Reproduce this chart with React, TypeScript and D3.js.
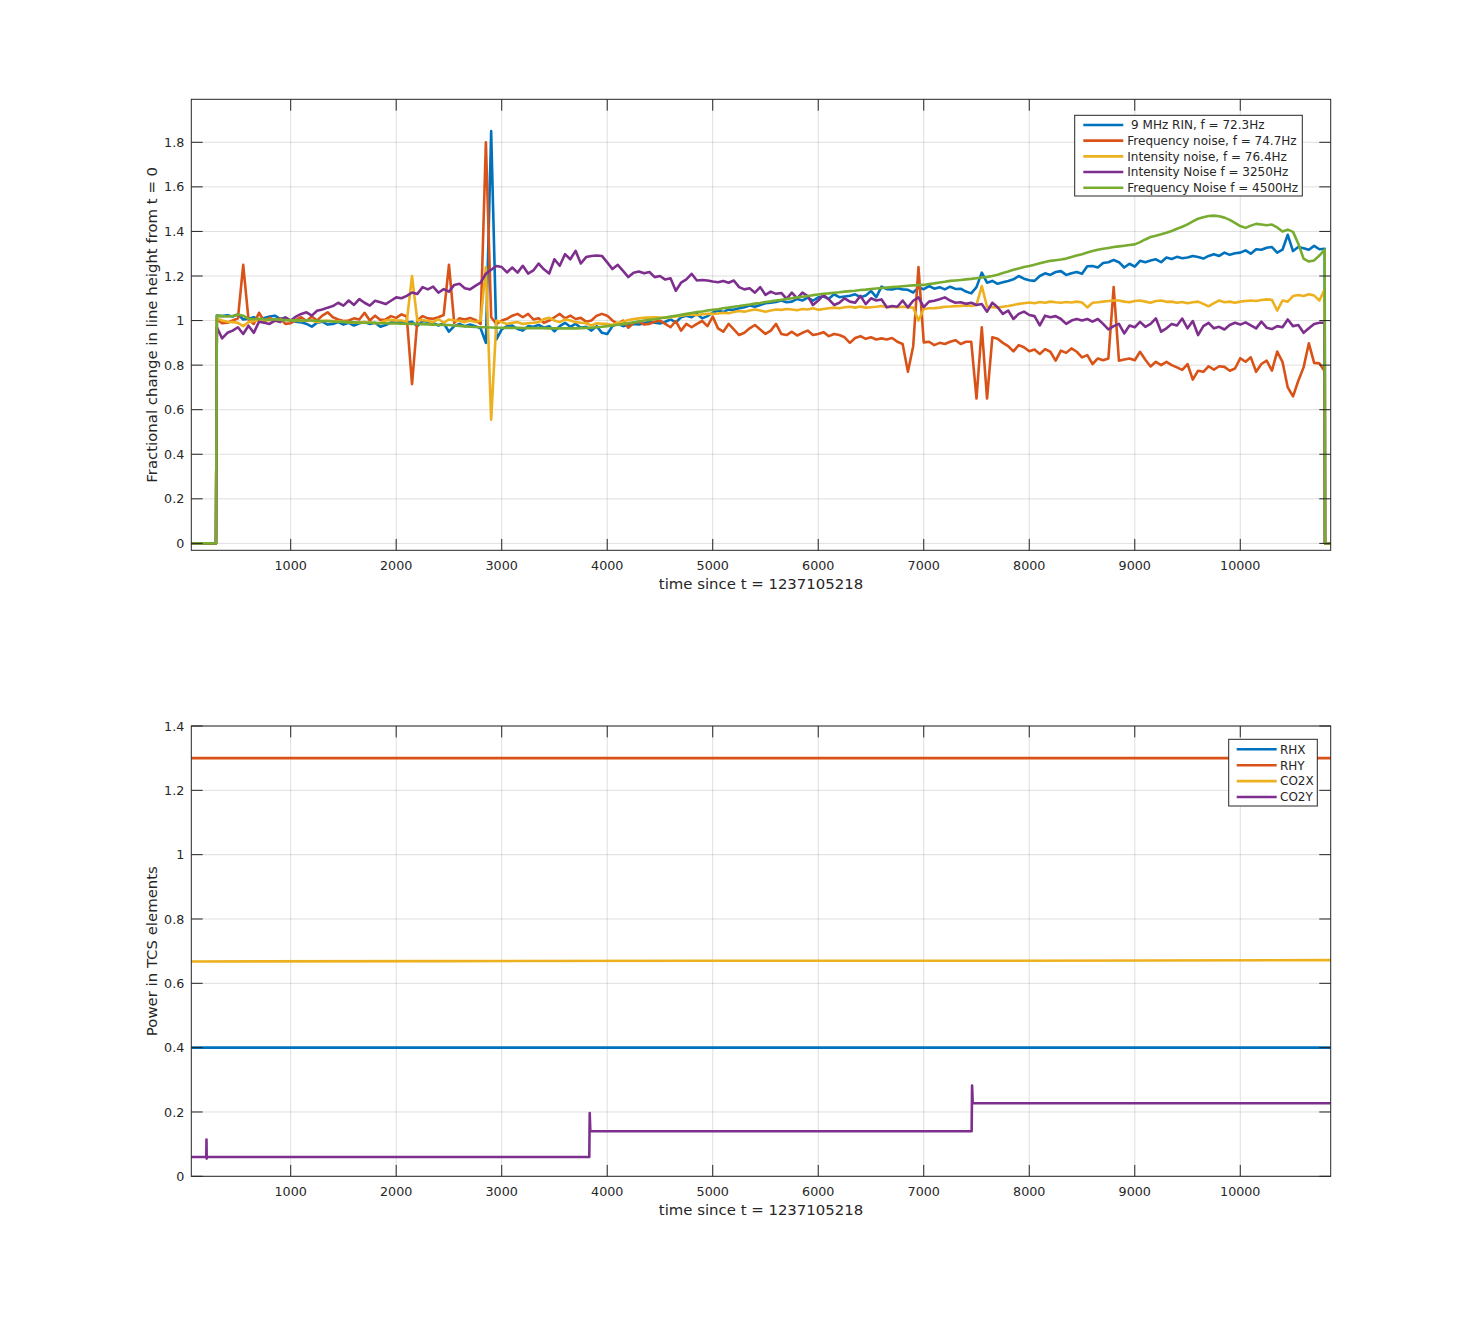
import React from 'react';
import * as d3 from 'd3';

// ---------- data ----------
const COLORS = ['#0072BD', '#D95319', '#EDB120', '#7E2F8E', '#77AC30'];

const TOP_NAMES = [
  ' 9 MHz RIN, f = 72.3Hz',
  'Frequency noise, f = 74.7Hz',
  'Intensity noise, f = 76.4Hz',
  'Intensity Noise f = 3250Hz',
  'Frequency Noise f = 4500Hz',
];

const X_DOMAIN = [58, 10857];
const X_TICKS = [1000, 2000, 3000, 4000, 5000, 6000, 7000, 8000, 9000, 10000];
const TOP_Y_DOMAIN = [-0.031, 1.993];
const TOP_Y_TICKS = [0, 0.2, 0.4, 0.6, 0.8, 1, 1.2, 1.4, 1.6, 1.8];
const BOT_Y_DOMAIN = [0, 1.4];
const BOT_Y_TICKS = [0, 0.2, 0.4, 0.6, 0.8, 1, 1.2, 1.4];

// sampling of the top-panel traces: first sample time and spacing (s)
const SAMPLE_START = 300;
const SAMPLE_STEP = 50;
// before the first sample and after the last one the traces are zero
const LEAD_T = [58, 292];
const TAIL_T = [10803, 10857];

const RIN_72 = [
  1.022,1.020,1.024,1.018,1.028,1.005,1.008,1.015,1.004,1.012,1.018,1.022,1.008,1.012,1.000,0.995,0.992,0.985,0.973,0.990,
  0.995,0.982,0.985,0.993,0.982,0.990,0.978,0.988,0.993,0.985,0.990,0.972,0.980,0.992,0.990,0.993,0.990,0.995,0.975,0.998,
  0.995,0.990,0.978,0.988,0.950,0.975,0.985,0.975,0.982,0.975,0.965,0.900,1.850,0.915,0.960,0.975,0.978,0.962,0.955,0.975,
  0.972,0.980,0.968,0.975,0.952,0.975,0.990,0.972,0.985,0.968,0.972,0.955,0.975,0.945,0.940,0.975,0.985,0.975,0.980,0.985,
  0.982,0.988,0.995,0.990,0.987,0.995,1.005,0.992,1.015,1.022,1.015,1.030,1.010,1.020,1.035,1.045,1.038,1.050,1.048,1.055,
  1.060,1.068,1.062,1.070,1.078,1.080,1.083,1.090,1.082,1.085,1.097,1.090,1.103,1.089,1.104,1.108,1.098,1.118,1.105,1.108,
  1.111,1.118,1.105,1.112,1.133,1.105,1.152,1.141,1.140,1.145,1.140,1.138,1.126,1.148,1.141,1.155,1.143,1.150,1.140,1.152,
  1.142,1.143,1.130,1.122,1.150,1.215,1.170,1.178,1.165,1.172,1.178,1.185,1.200,1.188,1.181,1.178,1.200,1.212,1.205,1.218,
  1.222,1.205,1.212,1.218,1.210,1.244,1.245,1.238,1.258,1.262,1.272,1.262,1.238,1.255,1.242,1.268,1.262,1.270,1.275,1.262,
  1.283,1.276,1.286,1.280,1.283,1.290,1.285,1.278,1.290,1.298,1.290,1.305,1.295,1.302,1.305,1.315,1.300,1.320,1.318,1.327,
  1.330,1.305,1.318,1.385,1.312,1.330,1.325,1.318,1.335,1.320,1.322,
];

const FREQ_75 = [
  1.005,0.988,0.990,1.000,1.010,1.250,1.005,0.985,1.035,0.995,1.012,0.998,1.010,0.985,0.988,1.003,1.015,0.998,1.018,1.000,
  1.022,1.037,1.015,1.005,0.998,1.000,1.010,1.005,1.035,1.000,1.022,1.003,1.005,1.020,1.012,1.028,1.018,0.715,1.000,1.020,
  1.010,1.008,1.015,1.025,1.250,0.990,1.010,1.005,1.012,1.003,0.985,1.800,1.015,0.985,1.000,1.008,1.022,1.030,1.015,1.030,
  1.005,1.010,0.990,1.000,1.015,1.030,1.010,1.022,1.007,1.012,0.995,1.000,1.022,1.030,1.022,1.000,0.985,1.000,0.968,0.990,
  0.995,0.982,0.985,0.995,1.000,0.985,0.970,0.998,0.955,0.985,0.970,0.985,0.998,0.975,1.018,0.965,0.950,0.985,0.960,0.935,
  0.945,0.965,0.980,0.960,0.940,0.955,0.985,0.940,0.935,0.950,0.933,0.945,0.955,0.935,0.940,0.948,0.930,0.940,0.935,0.925,
  0.900,0.922,0.930,0.918,0.925,0.915,0.920,0.915,0.922,0.905,0.895,0.770,0.885,1.240,0.902,0.905,0.890,0.900,0.895,0.905,
  0.912,0.895,0.905,0.905,0.650,0.970,0.650,0.925,0.918,0.900,0.885,0.862,0.890,0.880,0.862,0.870,0.850,0.872,0.860,0.820,
  0.865,0.855,0.875,0.860,0.835,0.845,0.805,0.830,0.822,0.830,1.150,0.820,0.825,0.830,0.822,0.860,0.824,0.794,0.815,0.800,
  0.815,0.800,0.790,0.779,0.805,0.735,0.775,0.770,0.795,0.780,0.795,0.792,0.775,0.785,0.831,0.815,0.835,0.770,0.805,0.820,
  0.775,0.861,0.815,0.700,0.660,0.730,0.790,0.898,0.810,0.808,0.772,
];

const INT_76 = [
  1.010,1.000,0.995,0.993,0.990,0.975,0.993,0.998,1.000,1.002,1.003,1.000,1.002,1.005,1.000,1.000,0.998,1.000,1.000,0.993,
  0.998,1.000,0.998,0.997,0.995,0.993,0.992,0.990,0.993,0.992,0.988,0.990,1.000,1.003,1.000,1.000,0.995,1.200,1.000,1.003,
  0.998,0.993,1.007,0.990,1.005,1.000,0.998,0.993,1.000,0.993,1.000,1.240,0.555,1.000,0.993,0.985,0.990,0.993,0.985,0.988,
  0.990,0.993,1.007,1.012,1.000,0.993,1.005,1.000,0.993,0.990,0.988,0.978,0.988,0.985,0.985,0.980,0.990,0.995,1.002,1.007,
  1.010,1.013,1.013,1.015,1.013,1.012,1.015,1.018,1.022,1.025,1.027,1.024,1.028,1.030,1.030,1.032,1.035,1.033,1.038,1.043,
  1.040,1.045,1.050,1.045,1.040,1.045,1.050,1.048,1.052,1.050,1.046,1.052,1.050,1.055,1.048,1.052,1.055,1.058,1.055,1.060,
  1.062,1.058,1.063,1.058,1.060,1.062,1.065,1.060,1.062,1.060,1.062,1.060,1.058,1.000,1.052,1.055,1.056,1.058,1.062,1.063,
  1.065,1.066,1.068,1.065,1.070,1.155,1.062,1.060,1.059,1.062,1.065,1.070,1.075,1.078,1.081,1.078,1.083,1.080,1.085,1.082,
  1.080,1.083,1.081,1.085,1.081,1.059,1.080,1.082,1.085,1.088,1.090,1.090,1.085,1.082,1.088,1.090,1.085,1.080,1.088,1.090,
  1.084,1.085,1.080,1.083,1.078,1.082,1.085,1.075,1.064,1.078,1.090,1.082,1.085,1.080,1.085,1.088,1.090,1.088,1.092,1.095,
  1.093,1.045,1.090,1.085,1.110,1.115,1.110,1.118,1.112,1.090,1.140,
];

const INT_3250 = [
  0.970,0.920,0.945,0.955,0.970,0.940,0.977,0.945,0.995,0.990,0.985,1.000,0.993,1.015,1.000,1.018,1.030,1.037,1.022,1.044,
  1.050,1.058,1.065,1.080,1.067,1.090,1.070,1.096,1.080,1.067,1.089,1.082,1.074,1.089,1.104,1.100,1.111,1.126,1.119,1.150,
  1.140,1.152,1.125,1.141,1.130,1.160,1.165,1.145,1.140,1.156,1.170,1.210,1.228,1.245,1.240,1.216,1.238,1.215,1.246,1.211,
  1.225,1.256,1.230,1.211,1.275,1.246,1.298,1.275,1.313,1.256,1.285,1.290,1.292,1.290,1.261,1.231,1.250,1.223,1.195,1.215,
  1.220,1.212,1.218,1.195,1.200,1.184,1.190,1.134,1.170,1.185,1.210,1.180,1.182,1.180,1.175,1.172,1.178,1.170,1.180,1.150,
  1.140,1.145,1.125,1.150,1.115,1.130,1.120,1.124,1.097,1.125,1.100,1.125,1.110,1.070,1.090,1.115,1.095,1.070,1.080,1.100,
  1.085,1.080,1.111,1.074,1.100,1.090,1.095,1.060,1.065,1.062,1.090,1.059,1.089,1.104,1.060,1.085,1.089,1.096,1.104,1.090,
  1.080,1.082,1.075,1.080,1.070,1.074,1.040,1.080,1.060,1.030,1.045,1.007,1.030,1.040,1.025,1.020,0.978,1.022,1.015,1.020,
  1.007,0.985,1.000,1.007,1.000,1.007,0.995,1.007,0.985,0.960,0.975,0.985,0.942,0.978,0.970,0.994,0.972,0.985,1.010,0.950,
  0.965,0.985,0.978,1.009,0.965,0.998,0.935,0.975,0.990,0.965,0.972,0.960,0.980,0.990,0.982,0.992,0.978,0.965,0.995,0.968,
  0.962,0.975,0.970,1.005,0.975,0.980,0.945,0.965,0.985,0.990,0.990,
];

const FREQ_4500 = [
  1.022,1.020,1.018,1.020,1.027,1.022,1.008,1.006,1.008,1.005,1.004,1.006,1.003,1.002,1.001,1.002,1.000,1.001,1.000,0.999,
  0.998,0.997,0.996,0.995,0.994,0.993,0.992,0.991,0.990,0.990,0.989,0.988,0.988,0.987,0.987,0.986,0.986,0.985,0.985,0.984,
  0.983,0.982,0.981,0.980,0.980,0.978,0.976,0.974,0.972,0.971,0.970,0.970,0.969,0.968,0.968,0.967,0.967,0.967,0.966,0.966,
  0.966,0.966,0.966,0.965,0.965,0.965,0.965,0.965,0.965,0.966,0.967,0.968,0.970,0.972,0.975,0.978,0.981,0.984,0.988,0.992,
  0.996,1.000,1.003,1.006,1.010,1.014,1.018,1.022,1.026,1.030,1.034,1.038,1.041,1.045,1.048,1.051,1.055,1.058,1.062,1.065,
  1.069,1.072,1.076,1.079,1.083,1.086,1.090,1.093,1.097,1.100,1.104,1.107,1.110,1.114,1.117,1.120,1.122,1.125,1.127,1.130,
  1.132,1.134,1.137,1.139,1.142,1.144,1.146,1.148,1.150,1.152,1.154,1.156,1.158,1.159,1.160,1.164,1.167,1.171,1.174,1.178,
  1.180,1.182,1.185,1.187,1.190,1.193,1.196,1.200,1.206,1.213,1.220,1.228,1.234,1.240,1.245,1.251,1.257,1.263,1.268,1.271,
  1.274,1.278,1.285,1.292,1.298,1.305,1.312,1.318,1.322,1.326,1.330,1.333,1.336,1.339,1.342,1.352,1.364,1.375,1.381,1.387,
  1.394,1.402,1.412,1.421,1.432,1.445,1.457,1.464,1.469,1.471,1.468,1.462,1.452,1.438,1.424,1.416,1.426,1.434,1.431,1.428,
  1.431,1.418,1.400,1.408,1.398,1.345,1.278,1.265,1.270,1.292,1.318,
];

const TOP_SERIES = [RIN_72, FREQ_75, INT_76, INT_3250, FREQ_4500];

// bottom panel (TCS powers), step-like traces as breakpoints
const TCS_NAMES = ['RHX', 'RHY', 'CO2X', 'CO2Y'];
const RHX_T = [58, 10857];
const RHX_V = [0.4, 0.4];
const RHY_T = [58, 10857];
const RHY_V = [1.3, 1.3];
const CO2X_T = [58, 2500, 5000, 7500, 10857];
const CO2X_V = [0.668, 0.669, 0.670, 0.670, 0.672];
const CO2Y_T = [58, 200, 202, 204, 206, 3830, 3834, 3840, 7454, 7458, 7464, 10857];
const CO2Y_V = [0.06, 0.06, 0.114, 0.055, 0.06, 0.06, 0.197, 0.14, 0.14, 0.282, 0.227, 0.227];
const BOT_SERIES = [
  [RHX_T, RHX_V],
  [RHY_T, RHY_V],
  [CO2X_T, CO2X_V],
  [CO2Y_T, CO2Y_V],
];

// ---------- layout ----------
const W = 1471;
const H = 1323;
const FONT = '"DejaVu Sans", sans-serif';
const INK = '#262626';
const TICK_LEN = 11.4;
const LINE_W = 2.6;
const TOP_BOX = { left: 191.3, right: 1330.7, top: 99.3, bottom: 550.3 };
const BOT_BOX = { left: 191.3, right: 1330.7, top: 726.0, bottom: 1176.3 };

const fmt = (v: number) => String(+v.toFixed(1));

function topPoints(vals: number[]): [number, number][] {
  const pts: [number, number][] = LEAD_T.map((t) => [t, 0] as [number, number]);
  vals.forEach((v, i) => pts.push([SAMPLE_START + i * SAMPLE_STEP, v]));
  TAIL_T.forEach((t) => pts.push([t, 0]));
  return pts;
}

type Box = { left: number; right: number; top: number; bottom: number };

function Axes(props: {
  id: string;
  box: Box;
  yDomain: number[];
  yTicks: number[];
  series: [number, number][][];
  ylabel: string;
  xlabel: string;
}) {
  const { id, box, yDomain, yTicks, series, ylabel, xlabel } = props;
  const x = d3.scaleLinear().domain(X_DOMAIN).range([box.left, box.right]);
  const y = d3.scaleLinear().domain(yDomain).range([box.bottom, box.top]);
  const line = d3
    .line<[number, number]>()
    .x((d) => x(d[0]))
    .y((d) => y(d[1]));
  const cx = (box.left + box.right) / 2;
  const cy = (box.top + box.bottom) / 2;
  return (
    <g>
      <defs>
        <clipPath id={id}>
          <rect x={box.left} y={box.top - 2} width={box.right - box.left} height={box.bottom - box.top + 4} />
        </clipPath>
      </defs>
      <rect x={box.left} y={box.top} width={box.right - box.left} height={box.bottom - box.top} fill="#fff" />
      {/* grid */}
      <g stroke={INK} strokeOpacity={0.15} strokeWidth={1}>
        {X_TICKS.map((t) => (
          <line key={'gx' + t} x1={x(t)} x2={x(t)} y1={box.top} y2={box.bottom} />
        ))}
        {yTicks.map((t) => (
          <line key={'gy' + t} x1={box.left} x2={box.right} y1={y(t)} y2={y(t)} />
        ))}
      </g>
      {/* data */}
      <g clipPath={`url(#${id})`} fill="none" strokeWidth={LINE_W} strokeLinejoin="round" strokeLinecap="round">
        {series.map((pts, i) => (
          <path key={i} d={line(pts) || ''} stroke={COLORS[i]} />
        ))}
      </g>
      {/* box + ticks */}
      <rect x={box.left} y={box.top} width={box.right - box.left} height={box.bottom - box.top} fill="none" stroke={INK} strokeWidth={1} />
      <g stroke={INK} strokeWidth={1}>
        {X_TICKS.map((t) => (
          <g key={'tx' + t}>
            <line x1={x(t)} x2={x(t)} y1={box.bottom} y2={box.bottom - TICK_LEN} />
            <line x1={x(t)} x2={x(t)} y1={box.top} y2={box.top + TICK_LEN} />
          </g>
        ))}
        {yTicks.map((t) => (
          <g key={'ty' + t}>
            <line x1={box.left} x2={box.left + TICK_LEN} y1={y(t)} y2={y(t)} />
            <line x1={box.right} x2={box.right - TICK_LEN} y1={y(t)} y2={y(t)} />
          </g>
        ))}
      </g>
      <g fill={INK} fontFamily={FONT} fontSize={12.7}>
        {X_TICKS.map((t) => (
          <text key={'lx' + t} x={x(t)} y={box.bottom + 19.5} textAnchor="middle">
            {fmt(t)}
          </text>
        ))}
        {yTicks.map((t) => (
          <text key={'ly' + t} x={box.left - 7} y={y(t) + 4.6} textAnchor="end">
            {fmt(t)}
          </text>
        ))}
      </g>
      <text x={cx} y={box.bottom + 39} textAnchor="middle" fontFamily={FONT} fontSize={14.9} fill={INK}>
        {xlabel}
      </text>
      <text
        transform={`translate(${box.left - 34},${cy}) rotate(-90)`}
        textAnchor="middle"
        fontFamily={FONT}
        fontSize={14.9}
        fill={INK}
      >
        {ylabel}
      </text>
    </g>
  );
}

function Legend(props: { x: number; y: number; w: number; h: number; names: string[]; rowY0: number; rowDy: number; lineX0: number; lineX1: number; textX: number }) {
  const { x, y, w, h, names, rowY0, rowDy, lineX0, lineX1, textX } = props;
  return (
    <g>
      <rect x={x} y={y} width={w} height={h} fill="#fff" stroke={INK} strokeWidth={1} />
      {names.map((n, i) => {
        const ry = rowY0 + i * rowDy;
        return (
          <g key={n}>
            <line x1={lineX0} x2={lineX1} y1={ry} y2={ry} stroke={COLORS[i]} strokeWidth={LINE_W} />
            <text x={textX} y={ry + 4.3} fontFamily={FONT} fontSize={12} fill={INK} style={{ whiteSpace: 'pre' }}>
              {n}
            </text>
          </g>
        );
      })}
    </g>
  );
}

export default function App() {
  const topSeries = TOP_SERIES.map((vals) => topPoints(vals));
  const botSeries = BOT_SERIES.map(([ts, vs]) => ts.map((t, i) => [t, vs[i]] as [number, number]));
  return (
    <svg
      width={W}
      height={H}
      viewBox={`0 0 ${W} ${H}`}
      style={{ position: 'absolute', left: 0, top: 0, background: '#fff' }}
    >
      <rect x={0} y={0} width={W} height={H} fill="#fff" />
      <Axes
        id="clipTop"
        box={TOP_BOX}
        yDomain={TOP_Y_DOMAIN}
        yTicks={TOP_Y_TICKS}
        series={topSeries}
        ylabel="Fractional change in line height from t = 0"
        xlabel="time since t = 1237105218"
      />
      <Legend x={1074.7} y={115.3} w={227.6} h={80.7} names={TOP_NAMES} rowY0={125} rowDy={15.67} lineX0={1083.3} lineX1={1123.3} textX={1127.3} />
      <Axes
        id="clipBot"
        box={BOT_BOX}
        yDomain={BOT_Y_DOMAIN}
        yTicks={BOT_Y_TICKS}
        series={botSeries}
        ylabel="Power in TCS elements"
        xlabel="time since t = 1237105218"
      />
      <Legend x={1228.7} y={739.3} w={88.6} h={66.7} names={TCS_NAMES} rowY0={749.3} rowDy={15.9} lineX0={1236.7} lineX1={1276.7} textX={1280} />
    </svg>
  );
}
